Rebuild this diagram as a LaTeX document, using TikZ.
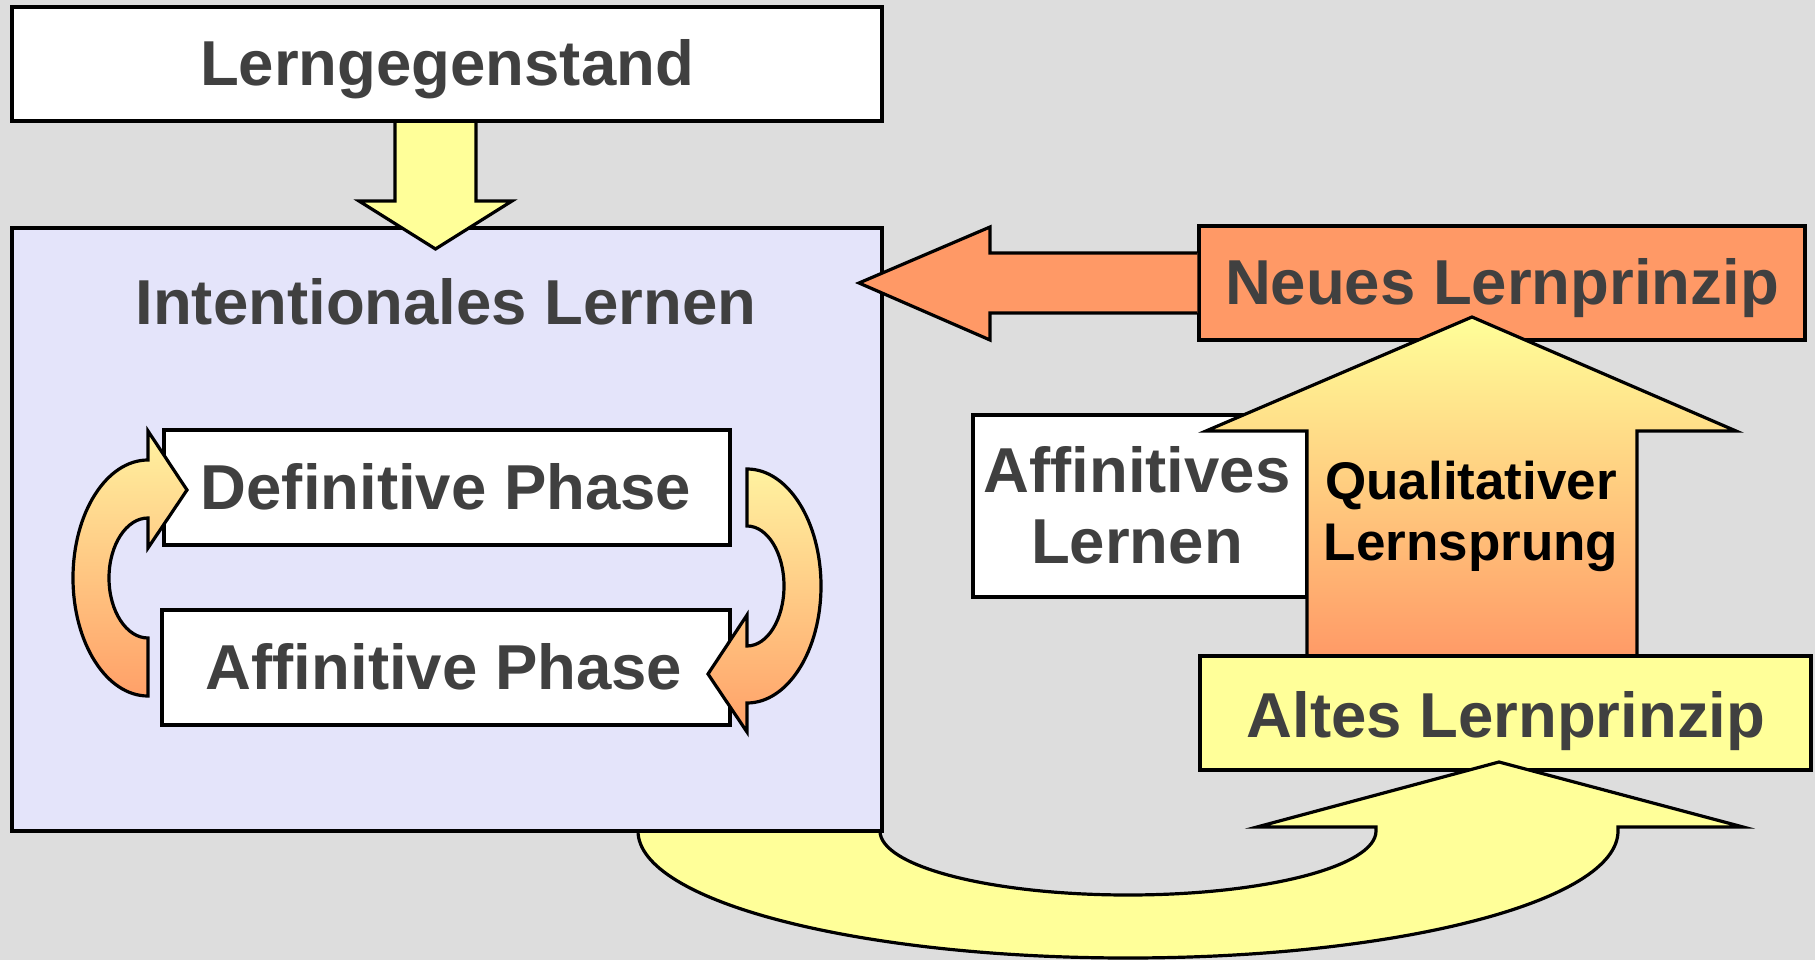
\documentclass[tikz,border=0pt]{standalone}
\usepackage{fontspec}
\setmainfont{Liberation Sans}
\definecolor{bg}{RGB}{221,221,221}
\definecolor{lav}{RGB}{228,228,250}
\definecolor{yel}{RGB}{255,255,153}
\definecolor{org}{RGB}{255,153,102}
\definecolor{pyel}{RGB}{255,242,160}
\definecolor{porg}{RGB}{255,160,104}
\definecolor{txt}{RGB}{64,64,64}
\tikzset{
  box/.style={draw=black, line width=1.6pt, rectangle, inner sep=0pt},
  blk/.style={draw=black, line width=1.6pt, line join=miter},
  lbl/.style={text=txt, font=\fontsize{31.75}{38}\selectfont\bfseries, inner sep=0pt, anchor=base},
  lblb/.style={text=black, font=\fontsize{26.5}{32}\selectfont\bfseries, inner sep=0pt, anchor=base}
}
\begin{document}
\begin{tikzpicture}[x=0.5pt,y=0.5pt]
\useasboundingbox (0,0) rectangle (1815,960);
\fill[bg] (0,0) rectangle (1815,960);

% right side
\node[box, fill=org, minimum width=303pt, minimum height=57pt] (neu) at (1502,677) {};
\node[box, fill=white, minimum width=167pt, minimum height=91pt] (aff) at (1140,454) {};
\path[blk, top color=yel, bottom color=org] (1307,300) -- (1307,529) -- (1206,529) -- (1472,643) -- (1736,529) -- (1637,529) -- (1637,300) -- cycle;
\node[box, fill=yel, minimum width=305.5pt, minimum height=57pt] (alt) at (1505.5,247) {};

% U arrow
\filldraw[blk, fill=yel] (638,129) arc[start angle=180, end angle=360, x radius=490, y radius=127]
  -- (1618,133) -- (1743,133) -- (1499,198) -- (1257,133) -- (1376,133) -- (1376,129)
  arc[start angle=0, end angle=-180, x radius=248, y radius=64] -- cycle;

% left side
\node[box, fill=lav, minimum width=435pt, minimum height=301.5pt] (int) at (447,430.5) {};
\node[box, fill=white, minimum width=283pt, minimum height=57.5pt] (def) at (447,472.5) {};
\node[box, fill=white, minimum width=284pt, minimum height=57.5pt] (afp) at (446,292.5) {};

\path[blk, top color=pyel, bottom color=porg] (148,500) arc[start angle=90, end angle=270, x radius=75, y radius=118]
  -- (148,322) arc[start angle=270, end angle=90, x radius=39, y radius=60]
  -- (148,412) -- (187,470) -- (148,529) -- cycle;
\path[blk, top color=pyel, bottom color=porg] (747,491) arc[start angle=90, end angle=-90, x radius=74, y radius=117]
  -- (747,228) -- (708,286) -- (747,345) -- (747,314)
  arc[start angle=-90, end angle=90, x radius=37, y radius=60] -- cycle;

\path[blk, fill=yel] (395,845) -- (395,759) -- (359,759) -- (435.5,711) -- (512,759) -- (476,759) -- (476,845) -- cycle;
\node[box, fill=white, minimum width=435pt, minimum height=57pt] (lg) at (447,896) {};

\filldraw[blk, fill=org] (1197.4,707) -- (990,707) -- (990,733) -- (859,677) -- (990,620) -- (990,647) -- (1197.4,647);

% texts
\node[lbl] (t1) at (447,874) {Lerngegenstand};
\node[lbl] (t2) at (446,635) {Intentionales Lernen};
\node[lbl] (t3) at (446,451) {Definitive Phase};
\node[lbl] (t4) at (444,271) {Affinitive Phase};
\node[lbl] (t5) at (1502,655) {Neues Lernprinzip};
\node[lbl] (t6) at (1137,467) {Affinitives};
\node[lbl] (t7) at (1137,397) {Lernen};
\node[lblb] (t8) at (1471,460) {Qualitativer};
\node[lblb] (t9) at (1471,400) {Lernsprung};
\node[lbl] (t10) at (1506,223) {Altes Lernprinzip};
\end{tikzpicture}
\end{document}
